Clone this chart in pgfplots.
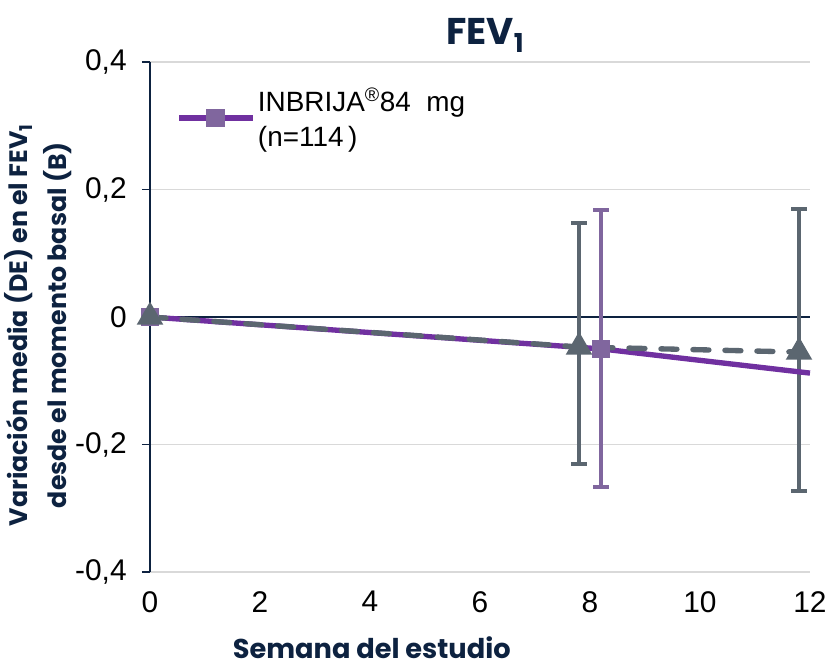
\documentclass[border=0pt]{standalone}
\usepackage{fontspec}
\setmainfont{Liberation Sans}
\newfontfamily\labfont{Poppins}
\usepackage{pgfplots}
\pgfplotsset{compat=1.18}
\definecolor{navy}{HTML}{0D2240}
\definecolor{purp}{HTML}{7030A0}
\definecolor{purpm}{HTML}{80669E}
\definecolor{gr}{HTML}{5B6670}
\definecolor{gridc}{HTML}{D9D9D9}
\begin{document}
\begin{tikzpicture}[x=0.75bp,y=0.75bp]
\begin{axis}[name=ax, scale only axis, width=495bp, height=382.5bp,
  xmin=0, xmax=12, ymin=-0.4, ymax=0.4,
  axis x line*=none, axis y line*=left,
  axis line style={navy, line width=1pt},
  x axis line style={draw=none},
  xtick={0,2,...,12}, major x tick style={draw=none},
  ytick={-0.4,-0.2,0,0.2,0.4},
  yticklabels={{-0,4},{-0,2},0,{0,2},{0,4}},
  xticklabels={0,2,4,6,8,10,12},
  tick align=outside, major tick length=6bp,
  y tick style={navy, line width=0.8pt},
  ymajorgrids, grid style={gridc, line width=1.2pt},
  ticklabel style={font=\fontsize{22.5}{26}\selectfont, black},
  xticklabel style={yshift=-5bp},
  yticklabel style={xshift=-8bp},
  xlabel={\labfont\bfseries Semana del estudio},
  xlabel style={font=\fontsize{20.5}{24}\selectfont, navy, at={(rel axis cs:0.336,0)}, anchor=north, yshift=-45bp},
  ylabel={\labfont\bfseries\begin{tabular}{c}Variación media (DE) en el FEV\textsubscript{1}\\desde el momento basal (B)\end{tabular}},
  ylabel style={font=\fontsize{19}{29}\selectfont, navy, at={(ticklabel cs:0.484)}, yshift=-9bp},
  title={\labfont\bfseries FEV\textsubscript{1}},
  title style={font=\fontsize{28}{32}\selectfont, navy, yshift=-2bp, xshift=4bp},
  clip=false,
  legend style={at={(0.04,0.955)}, anchor=north west, draw=none, fill=none,
    font=\fontsize{21}{26}\selectfont, align=left, inner sep=0pt},
  legend cell align=left,
  legend image code/.code={
    \draw[#1, mark=none] (0bp,0bp) -- (55bp,0bp);
    \draw[#1, only marks] plot coordinates {(27bp,0bp)};},
]
% zero line
\draw[navy, line width=1pt] (axis cs:0,0) -- (axis cs:12,0);
% error bars
\addplot[purpm, only marks, mark=none, forget plot,
  error bars/.cd, y dir=both, y explicit,
  error bar style={purpm, line width=3bp}, error mark options={rotate=90, mark size=5.8bp, purpm, line width=3bp}]
  coordinates {(8.2,-0.050) += (0,0.218) -= (0,0.216)};
\addplot[gr, only marks, mark=none, forget plot,
  error bars/.cd, y dir=both, y explicit,
  error bar style={gr, line width=3bp}, error mark options={rotate=90, mark size=5.8bp, gr, line width=3bp}]
  coordinates {(7.8,-0.047) += (0,0.195) -= (0,0.183)
               (11.8,-0.055) += (0,0.224) -= (0,0.218)};
% purple line
\addplot[purp, line width=4bp, mark=square*, mark indices={1,2},
  mark options={solid, fill=purpm, draw=purpm, line width=0.5pt, mark size=6.4bp}]
  coordinates {(0,0) (8.2,-0.050) (12,-0.088)};
\addlegendentry{INBRIJA\textsuperscript{\textregistered}84 \ mg\\(n=114\,)}
% gray dashed line
\addplot[gr, line width=4bp, dash pattern=on 12bp off 12bp, line cap=round, mark=triangle*,
  mark options={solid, fill=gr, draw=gr, mark size=7.5bp}, forget plot]
  coordinates {(0,0) (7.8,-0.047) (11.8,-0.055)};
\end{axis}
\pgfresetboundingbox
\path ([shift={(-150,-97)}]ax.south west) rectangle ([shift={(16,62)}]ax.north east);
\end{tikzpicture}
\end{document}
